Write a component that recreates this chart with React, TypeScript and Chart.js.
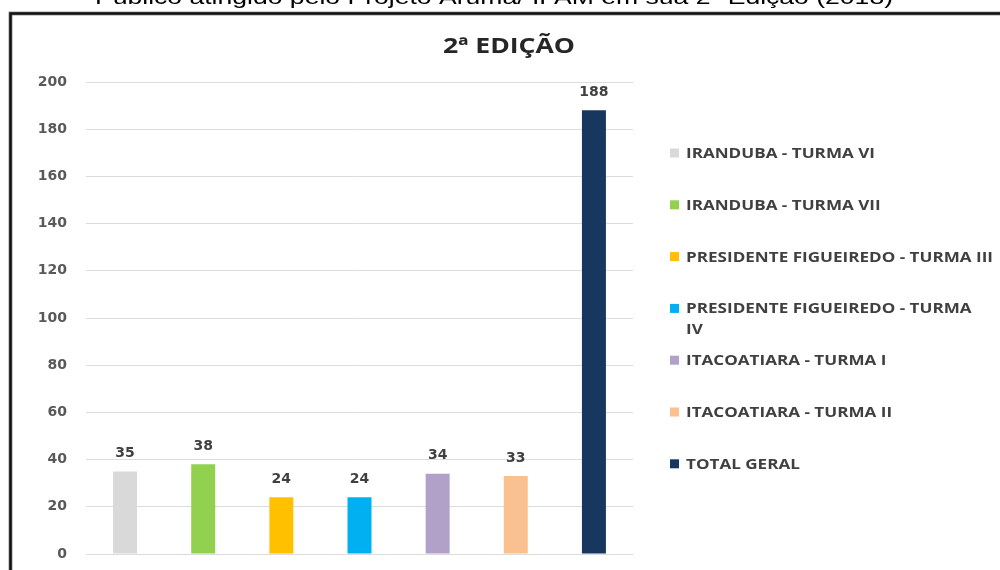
import { useEffect, useRef } from "react";
import { Chart, registerables } from "chart.js";

Chart.register(...registerables);

// Turmas atendidas na 2ª edição e número de participantes
const categories = [
  "IRANDUBA - TURMA VI",
  "IRANDUBA - TURMA VII",
  "PRESIDENTE FIGUEIREDO - TURMA III",
  "PRESIDENTE FIGUEIREDO - TURMA\nIV",
  "ITACOATIARA - TURMA I",
  "ITACOATIARA - TURMA II",
  "TOTAL GERAL",
];
const participants = [35, 38, 24, 24, 34, 33, 188];
const barColors = ["#d9d9d9", "#92d050", "#ffc000", "#00b0f0", "#b1a0c7", "#fac090", "#17375e"];

const yMin = 0;
const yMax = 200;
const yStep = 20;

const chartTitle = "2ª EDIÇÃO";
const caption = "Público atingido pelo Projeto Aruma/ IFAM em sua 2ª Edição (2018)";

const W = 1000;
const H = 570;
const TEXT_GREY = "#404040";

// Draws text horizontally scaled so it spans exactly `width` pixels.
function fitText(ctx: CanvasRenderingContext2D, text: string, x: number, y: number, width: number) {
  const w = ctx.measureText(text).width;
  ctx.save();
  ctx.translate(x, y);
  ctx.scale(width / w, 1);
  ctx.textAlign = "left";
  ctx.fillText(text, 0, 0);
  ctx.restore();
}

const decorations = {
  id: "decorations",
  beforeDraw(chart: any) {
    const ctx: CanvasRenderingContext2D = chart.ctx;
    ctx.save();
    ctx.fillStyle = "#ffffff";
    ctx.fillRect(0, 0, W, H);

    // caption above the frame
    ctx.fillStyle = "#000000";
    ctx.font = "20px 'Liberation Sans', Arial, sans-serif";
    ctx.textBaseline = "alphabetic";
    fitText(ctx, caption, 95, 3.5, 798);

    // frame around the chart
    ctx.strokeStyle = "#9a9a9a";
    ctx.lineWidth = 4;
    ctx.strokeRect(10.5, 13.5, W + 40, H + 40);
    ctx.strokeStyle = "#111111";
    ctx.lineWidth = 2.5;
    ctx.strokeRect(10.5, 13.5, W + 40, H + 40);
    ctx.restore();
  },
  afterDatasetsDraw(chart: any) {
    const ctx: CanvasRenderingContext2D = chart.ctx;
    ctx.save();
    ctx.fillStyle = TEXT_GREY;
    ctx.font = "bold 14px 'DejaVu Sans', sans-serif";
    ctx.textAlign = "center";
    ctx.textBaseline = "middle";
    chart.data.datasets.forEach((ds: any, i: number) => {
      const meta = chart.getDatasetMeta(i);
      meta.data.forEach((bar: any, j: number) => {
        const v = ds.data[j];
        if (v === null || v === undefined) return;
        ctx.fillText(String(v), bar.x, bar.y - 18);
      });
    });
    ctx.restore();
  },
  afterDraw(chart: any) {
    const ctx: CanvasRenderingContext2D = chart.ctx;
    ctx.save();

    // title
    ctx.fillStyle = "#262626";
    ctx.font = "bold 22px 'Open Sans', sans-serif";
    ctx.textBaseline = "alphabetic";
    fitText(ctx, chartTitle, 443, 53, 132);

    // legend on the right
    const size = 14;
    ctx.font = `bold ${size}px 'Open Sans', sans-serif`;
    const longest = "PRESIDENTE FIGUEIREDO - TURMA III";
    const sx = 307 / ctx.measureText(longest).width;
    const capH = size * 0.714;
    chart.data.datasets.forEach((ds: any, i: number) => {
      const cy = 153 + i * 51.8;
      ctx.fillStyle = ds.backgroundColor;
      ctx.fillRect(670, cy - 4.5, 9, 9);
      ctx.fillStyle = TEXT_GREY;
      const lines = String(ds.label).split("\n");
      lines.forEach((line: string, k: number) => {
        ctx.save();
        ctx.translate(686, cy + capH / 2 + k * 21);
        ctx.scale(sx, 1);
        ctx.fillText(line, 0, 0);
        ctx.restore();
      });
    });
    ctx.restore();
  },
};

export default function App() {
  const canvasRef = useRef<HTMLCanvasElement | null>(null);

  useEffect(() => {
    const canvas = canvasRef.current;
    if (!canvas) return;
    const chart = new Chart(canvas, {
      type: "bar",
      data: {
        labels: categories,
        datasets: categories.map((name, i) => ({
          label: name,
          data: participants.map((v, j) => (j === i ? v : null)),
          backgroundColor: barColors[i],
          borderWidth: 0,
          skipNull: true,
          categoryPercentage: 0.307,
          barPercentage: 1,
        })),
      },
      options: {
        responsive: false,
        animation: false,
        devicePixelRatio: 1,
        layout: { padding: { left: 0, top: 82, right: 367, bottom: 16 } },
        plugins: {
          legend: { display: false },
          title: { display: false },
          tooltip: { enabled: false },
        },
        scales: {
          x: { display: false },
          y: {
            min: yMin,
            max: yMax,
            ticks: {
              stepSize: yStep,
              padding: 0,
              color: "#595959",
              font: { family: "'DejaVu Sans', sans-serif", size: 14, weight: "bold" },
            },
            grid: {
              color: "#dcdcdc",
              lineWidth: 1,
              drawTicks: true,
              tickLength: 19,
              tickColor: "rgba(0,0,0,0)",
            },
            border: { display: false },
            afterFit(scale: any) {
              scale.width = 86;
            },
          },
        },
      } as any,
      plugins: [decorations],
    });
    return () => chart.destroy();
  }, []);

  return (
    <div style={{ position: "absolute", left: 0, top: 0, width: W, height: H, background: "#fff" }}>
      <canvas ref={canvasRef} width={W} height={H} style={{ width: W, height: H, display: "block" }} />
    </div>
  );
}
